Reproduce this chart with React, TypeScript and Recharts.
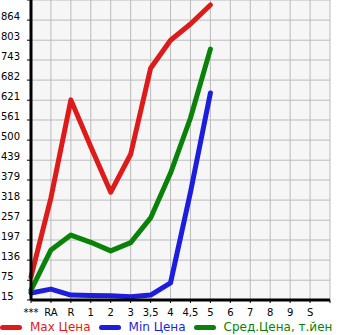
import React from 'react';
import { LineChart, Line, XAxis, YAxis, CartesianGrid } from 'recharts';

const categories = ['***', 'RA', 'R', '1', '2', '3', '3,5', '4', '4,5', '5', '6', '7', '8', '9', 'S'];
const maxPrice = [85, 325, 622, 480, 342, 457, 718, 803, 852, 910, null, null, null, null, null];
const minPrice = [36, 48, 30, 29, 28, 25, 30, 67, 342, 643, null, null, null, null, null];
const avgPrice = [45, 167, 212, 190, 164, 189, 264, 400, 567, 776, null, null, null, null, null];
const yTicks = [15, 75, 136, 197, 257, 318, 379, 439, 500, 561, 621, 682, 743, 803, 864, 925];
const yTickLabels = ['15', '75', '136', '197', '257', '318', '379', '439', '500', '561', '621', '682', '743', '803', '864', ''];
const xTicks = categories.map((_, i) => i).concat([categories.length]);

const seriesNames = ['Max Цена', 'Min Цена', 'Сред.Цена, т.йен'];
const seriesColors = ['#dd1b1b', '#1d1ddd', '#0a820a'];

const data = categories.map((c, i) => ({
  x: i,
  max: maxPrice[i],
  min: minPrice[i],
  avg: avgPrice[i],
}));

const font = 'DejaVu Sans, sans-serif';

const YTick = (props: any) => {
  const { y, payload } = props;
  const idx = yTicks.indexOf(payload.value);
  const label = idx >= 0 ? yTickLabels[idx] : '';
  return (
    <text x={1} y={y - 3} textAnchor="start" dominantBaseline="middle" fontSize={10} fontFamily={font} fill="#000">
      {label}
    </text>
  );
};

const XTick = (props: any) => {
  const { x, y, payload } = props;
  const label = categories[payload.value] ?? '';
  return (
    <text x={x} y={y + 8} textAnchor="middle" dominantBaseline="middle" fontSize={10} fontFamily={font} fill="#000">
      {label}
    </text>
  );
};

export default function App() {
  return (
    <div style={{ position: 'absolute', left: 0, top: 0, width: 345, height: 335, background: '#fff', overflow: 'hidden' }}>
      <LineChart width={345} height={320} data={data} margin={{ top: 0, right: 15, left: 0, bottom: 0 }}>
        <CartesianGrid stroke="#bbbbbb" strokeWidth={1} fill="#f6f6f6" />
        <XAxis
          dataKey="x"
          type="number"
          domain={[0, categories.length]}
          ticks={xTicks}
          interval={0}
          height={20}
          tick={<XTick />}
          tickSize={3}
          axisLine={{ stroke: '#000', strokeWidth: 3 }}
          tickLine={{ stroke: '#000', strokeWidth: 1 }}
        />
        <YAxis
          type="number"
          domain={[15, 925]}
          ticks={yTicks}
          interval={0}
          width={31}
          tick={<YTick />}
          tickSize={4}
          axisLine={{ stroke: '#000', strokeWidth: 3 }}
          tickLine={{ stroke: '#000', strokeWidth: 1 }}
        />
        <Line dataKey="max" stroke={seriesColors[0]} strokeWidth={5} dot={false} isAnimationActive={false} strokeLinejoin="round" strokeLinecap="round" connectNulls={false} />
        <Line dataKey="min" stroke={seriesColors[1]} strokeWidth={5} dot={false} isAnimationActive={false} strokeLinejoin="round" strokeLinecap="round" connectNulls={false} />
        <Line dataKey="avg" stroke={seriesColors[2]} strokeWidth={5} dot={false} isAnimationActive={false} strokeLinejoin="round" strokeLinecap="round" connectNulls={false} />
      </LineChart>
      <div style={{ position: 'absolute', left: 0, top: 319, height: 16, width: 400, display: 'flex', alignItems: 'center', fontFamily: font, fontSize: 12, whiteSpace: 'nowrap' }}>
        {seriesNames.map((n, i) => (
          <div key={n} style={{ display: 'flex', alignItems: 'center', marginRight: 8 }}>
            <div style={{ width: 22, height: 5, borderRadius: 3, background: seriesColors[i], marginRight: 8 }} />
            <span style={{ color: seriesColors[i] }}>{n}</span>
          </div>
        ))}
      </div>
    </div>
  );
}
